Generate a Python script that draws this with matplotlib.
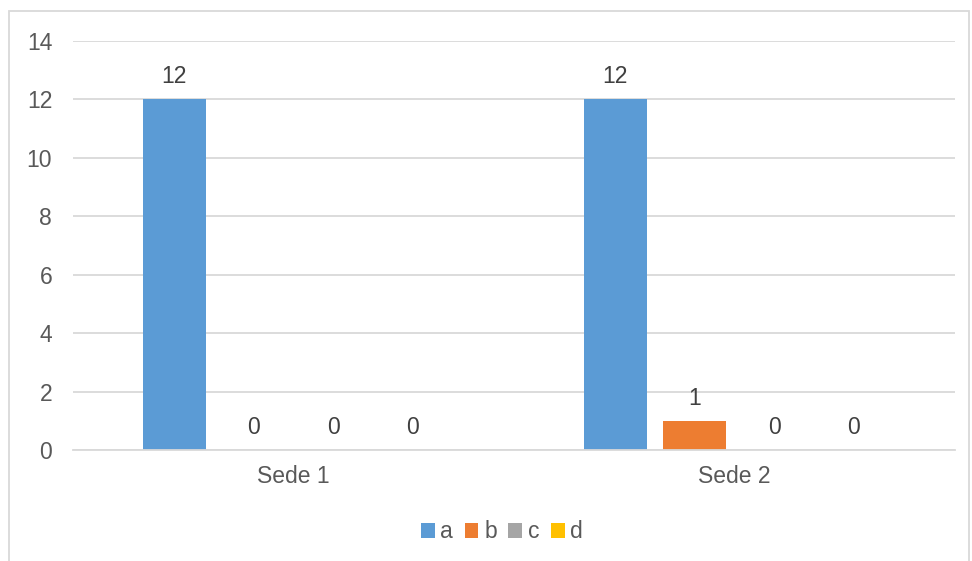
import matplotlib
matplotlib.use("Agg")
import matplotlib.pyplot as plt
from matplotlib.patches import Patch, Rectangle
import numpy as np

categories = ["Sede 1", "Sede 2"]
series_names = ["a", "b", "c", "d"]
values = {
    "a": [12, 12],
    "b": [0, 1],
    "c": [0, 0],
    "d": [0, 0],
}
colors = ["#5B9BD5", "#ED7D31", "#A5A5A5", "#FFC000"]
yticks = [0, 2, 4, 6, 8, 10, 12, 14]

plt.rcParams['font.family'] = ['Liberation Sans', 'DejaVu Sans']
W, H = 972, 561
fig = plt.figure(figsize=(W / 100, H / 100), dpi=100)
ax = fig.add_axes([73 / W, 1 - 450 / H, (955 - 73) / W, (450 - 41) / H])

txt = "#595959"
grid = "#D9D9D9"
fs = 16.5
x = np.arange(len(categories))
width = 0.143
step = 0.18
offsets = (np.arange(len(series_names)) - 1.5) * step

for i, name in enumerate(series_names):
    bars = ax.bar(x + offsets[i], values[name], width, color=colors[i], label=name, zorder=3)
    for b, v in zip(bars, values[name]):
        ax.annotate(str(v), (b.get_x() + b.get_width() / 2, v), xytext=(0, 16.3),
                    textcoords="offset points", ha="center", va="center",
                    fontsize=fs, color="#404040")

ax.set_xlim(-0.5, 1.5)
ax.set_ylim(0, 14)
ax.set_yticks(yticks)
ax.set_xticks(x)
ax.set_xticklabels(categories)
ax.yaxis.grid(True, color=grid, linewidth=1.3, zorder=0)
for s in ["top", "right", "left"]:
    ax.spines[s].set_visible(False)
ax.spines["bottom"].set_color(grid)
ax.spines["bottom"].set_linewidth(1.3)
ax.spines["bottom"].set_zorder(4)
ax.tick_params(axis="y", length=0, pad=15, labelsize=fs, labelcolor=txt)
ax.tick_params(axis="x", length=0, pad=11, labelsize=fs, labelcolor=txt)

handles = [Patch(facecolor=c, label=n) for c, n in zip(colors, series_names)]
fig.legend(handles=handles, loc="center", bbox_to_anchor=(502 / W, 1 - 532 / H),
           ncol=4, frameon=False, fontsize=fs, labelcolor=txt,
           handlelength=0.6, handleheight=0.6, handletextpad=0.25, columnspacing=0.5)

fig.patches.append(Rectangle((9 / W, -0.05), (969 - 9) / W, 1.05 - 11 / H,
                             transform=fig.transFigure, fill=False,
                             edgecolor=grid, linewidth=1.3))

fig.savefig("out.png", dpi=100)
